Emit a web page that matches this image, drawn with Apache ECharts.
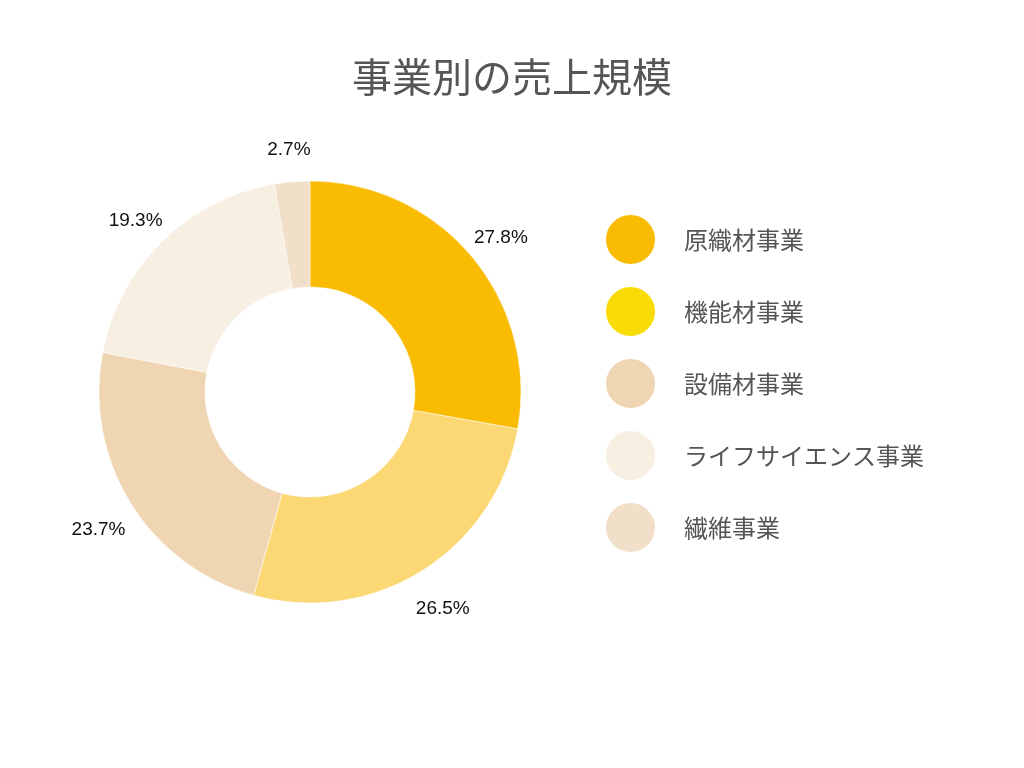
<!DOCTYPE html>
<html><head><meta charset="utf-8">
<script src="https://cdn.jsdelivr.net/npm/echarts@6/dist/echarts.min.js"></script>
<style>html,body{margin:0;padding:0;background:#fff}#c{width:1024px;height:768px}</style>
</head><body><div id="c"></div>
<script>
const titleText = '事業別の売上規模';
const categories = ['原織材事業', '機能材事業', '設備材事業', 'ライフサイエンス事業', '繊維事業'];
const values = [27.8, 26.5, 23.7, 19.3, 2.7];
const sliceColors = ['#F9BC02', '#FBD874', '#EFD5B1', '#F7EFE1', '#F1DFC9'];
const legendColors = ['#F9BC02', '#F9DC06', '#EFD5B1', '#F7EFE1', '#F1DFC9'];

const chart = echarts.init(document.getElementById('c'), null, {renderer: 'canvas'});
const pieData = categories.map((n, i) => ({name: n, value: values[i], itemStyle: {color: sliceColors[i]}}));
const labelData = categories.map((n, i) => ({name: n, value: values[i]}));
chart.setOption({
  animation: false,
  title: {
    text: titleText, left: 'center', top: 52,
    textStyle: {fontFamily: 'Noto Sans CJK JP', fontSize: 40, fontWeight: 'normal', color: '#555555'}
  },
  legend: {
    orient: 'vertical', left: 604, top: 213, padding: 0,
    icon: 'circle', itemWidth: 51, itemHeight: 51, itemGap: 19,
    data: categories.map((n, i) => ({name: n, itemStyle: {color: legendColors[i]}})),
    textStyle: {fontFamily: 'Noto Sans CJK JP', fontSize: 24, color: '#555555', padding: [0, 0, 0, 23]},
    selectedMode: false
  },
  series: [{
    type: 'pie', center: [310, 392], radius: [105, 211],
    startAngle: 90, clockwise: true, silent: true,
    label: {show: false}, labelLine: {show: false},
    itemStyle: {borderColor: '#ffffff', borderWidth: 0.5},
    data: pieData
  }, {
    type: 'pie', center: [310, 392], radius: [232, 260],
    startAngle: 90, clockwise: true, silent: true,
    itemStyle: {color: 'rgba(0,0,0,0)'},
    label: {show: true, position: 'inside', formatter: p => p.value.toFixed(1) + '%',
      fontFamily: 'Liberation Sans, Arial, sans-serif', fontSize: 19, color: '#111111', offset: [0, 6]},
    labelLine: {show: false},
    data: labelData
  }]
});
</script></body></html>
